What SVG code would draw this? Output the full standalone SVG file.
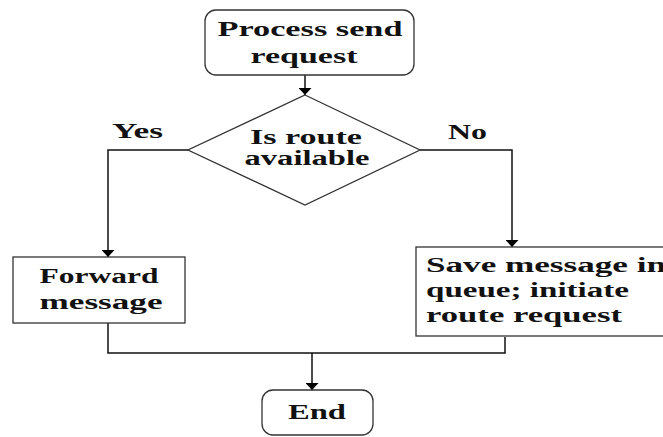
<svg xmlns="http://www.w3.org/2000/svg" width="663" height="437" viewBox="0 0 663 437">
<defs>
<marker id="ah" viewBox="0 0 7 13" refX="7" refY="6.5" markerWidth="7" markerHeight="13" markerUnits="userSpaceOnUse" orient="auto">
<path d="M0,0 L7,6.5 L0,13 Z" fill="#000"/>
</marker>
<style>
.box{fill:#fff;stroke:#333;stroke-width:1.3}
.c{fill:none;stroke:#111;stroke-width:1.5}
</style>
</defs>
<rect width="663" height="437" fill="#fff"/>
<g id="connectors">
<path class="c" d="M305,75 V95" marker-end="url(#ah)"/>
<path class="c" d="M188,150 H108 V257" marker-end="url(#ah)"/>
<path class="c" d="M420,150 H512 V247" marker-end="url(#ah)"/>
<path class="c" d="M108,323 V353 H505 V337"/>
<path class="c" d="M312,353 V390" marker-end="url(#ah)"/>
</g>
<g font-family="'Liberation Serif', 'DejaVu Serif', serif" font-weight="bold" font-size="20" fill="#111">
<g id="start">
<rect class="box" x="205" y="10" width="209" height="65" rx="11"/>
<text x="310" y="36" text-anchor="middle" textLength="185" lengthAdjust="spacingAndGlyphs">Process send</text>
<text x="304" y="63" text-anchor="middle" textLength="107" lengthAdjust="spacingAndGlyphs">request</text>
</g>
<g id="decision">
<polygon class="box" points="305,95 420,150 305,205 188,150"/>
<text x="306" y="144" text-anchor="middle" textLength="112" lengthAdjust="spacingAndGlyphs">Is route</text>
<text x="307" y="165" text-anchor="middle" textLength="125" lengthAdjust="spacingAndGlyphs">available</text>
</g>
<g id="label-yes">
<text x="112" y="138" textLength="51" lengthAdjust="spacingAndGlyphs">Yes</text>
</g>
<g id="label-no">
<text x="448" y="139" textLength="39" lengthAdjust="spacingAndGlyphs">No</text>
</g>
<g id="forward">
<rect class="box" x="13" y="257" width="172" height="66"/>
<text x="99" y="283" text-anchor="middle" textLength="119" lengthAdjust="spacingAndGlyphs">Forward</text>
<text x="101" y="309" text-anchor="middle" textLength="123" lengthAdjust="spacingAndGlyphs">message</text>
</g>
<g id="save">
<rect class="box" x="416" y="247" width="260" height="89"/>
<text x="426" y="272" textLength="240" lengthAdjust="spacingAndGlyphs">Save message in</text>
<text x="426" y="297" textLength="203" lengthAdjust="spacingAndGlyphs">queue; initiate</text>
<text x="426" y="322" textLength="196" lengthAdjust="spacingAndGlyphs">route request</text>
</g>
<g id="end">
<rect class="box" x="262" y="390" width="111" height="45" rx="11"/>
<text x="317" y="419" text-anchor="middle" textLength="58" lengthAdjust="spacingAndGlyphs">End</text>
</g>
</g>
</svg>
